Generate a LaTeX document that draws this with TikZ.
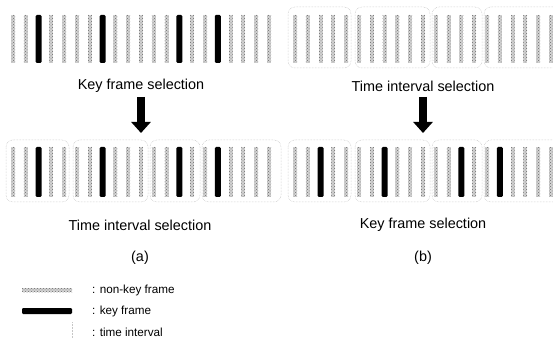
\documentclass[tikz,border=0pt]{standalone}
\usepackage{fontspec}
\setmainfont{Liberation Sans}
\usetikzlibrary{arrows.meta,patterns}
\tikzset{
  nonkeybg/.style={fill=gray!35, draw=none},
  nonkey/.style={pattern=crosshatch dots, pattern color=gray!85!black, draw=none},
  keyfr/.style={fill=black, draw=none, rounded corners=1.2pt},
  ivbox/.style={draw=gray!55, densely dotted, line width=0.5pt, rounded corners=7pt},
  ttl/.style={font=\fontsize{14.4}{17}\selectfont, inner sep=0pt},
  leg/.style={font=\fontsize{11.7}{14}\selectfont, inner sep=0pt, anchor=west},
  bigarrow/.style={line width=8pt, -{Triangle[width=19pt,length=11pt]}},
}
\newcommand{\nkbar}[4]{% x1,y1,x2,y2
  \fill[nonkeybg] (#1,#2) rectangle (#3,#4);
  \fill[nonkey] (#1,#2) rectangle (#3,#4);
}
\newcommand{\framerow}[4]{% x0, ytop, ybot, withkeys(1/0)
  \foreach \i in {0,1,3,4,5,6,8,9,10,11,12,14,15,17,18,19,20}
    \nkbar{{#1+12.8*\i-2}}{#2}{{#1+12.8*\i+2}}{#3};
  \foreach \i in {2,7,13,16}{
    \ifnum#4=1
      \fill[keyfr] ({#1+12.8*\i-3},#2) rectangle ({#1+12.8*\i+3},#3);
    \else
      \nkbar{{#1+12.8*\i-2}}{#2}{{#1+12.8*\i+2}}{#3};
    \fi}
}
\newcommand{\groupboxes}[3]{% x0, ytop, ybot
  \draw[ivbox] ({#1-7},#2) rectangle ({#1+56},#3);
  \draw[ivbox] ({#1+60},#2) rectangle ({#1+135},#3);
  \draw[ivbox] ({#1+137},#2) rectangle ({#1+187},#3);
  \draw[ivbox] ({#1+189},#2) rectangle ({#1+268},#3);
}
\begin{document}
\begin{tikzpicture}[x=1pt,y=-1pt]
\useasboundingbox (0,0) rectangle (553,344);
% (a) key frame selection first
\framerow{13}{15}{63}{1}
\node[ttl] (ta1) at (141,86) {Key frame selection};
\coordinate (aa1) at (141,97);
\coordinate (aa2) at (141,133);
\draw[bigarrow] (aa1) -- (aa2);
\groupboxes{13}{140}{202}
\framerow{13}{147}{197}{1}
\node[ttl] (ta2) at (140,225) {Time interval selection};
\node[ttl] (la) at (140,258) {(a)};
% (b) time interval selection first
\groupboxes{295}{7}{68}
\framerow{295}{15}{63}{0}
\node[ttl] (tb1) at (423,86) {Time interval selection};
\coordinate (ab1) at (423,97);
\coordinate (ab2) at (423,133);
\draw[bigarrow] (ab1) -- (ab2);
\groupboxes{295}{140}{202}
\framerow{295}{147}{197}{1}
\node[ttl] (tb2) at (423,225) {Key frame selection};
\node[ttl] (lb) at (423,258) {(b)};
% legend
\nkbar{22}{288}{72}{292}
\node[leg] (l1) at (92,290) {: non-key frame};
\fill[keyfr] (22,308) rectangle (72,314);
\node[leg] (l2) at (92,311) {: key frame};
\draw[gray!45, densely dotted, line width=0.5pt] (72,322) -- (72,338);
\node[leg] (l3) at (92,332) {: time interval};
\end{tikzpicture}
\end{document}
